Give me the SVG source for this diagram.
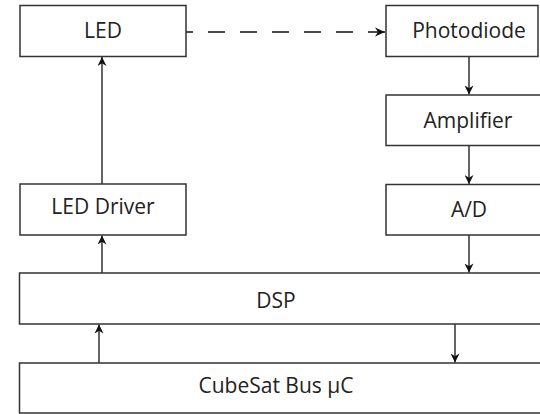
<svg xmlns="http://www.w3.org/2000/svg" width="540" height="414" viewBox="0 0 540 414">
<style>
.box{fill:#fff;stroke:#333;stroke-width:1.5}
.lbl{font-family:"Open Sans","Noto Sans",sans-serif;font-size:21px;fill:#222;text-anchor:middle}
.con{stroke:#111;stroke-width:1.3;fill:none}
</style>
<defs>
<marker id="ah" viewBox="0 0 10 10" refX="10" refY="5" markerWidth="10" markerHeight="9" markerUnits="userSpaceOnUse" orient="auto">
<path d="M0,0 L10,5 L0,10 L3,5 z" fill="#111"/>
</marker>
</defs>
<rect width="540" height="414" fill="#fff"/>
<g id="connectors">
<line class="con" x1="102" y1="184" x2="102" y2="57" marker-end="url(#ah)"/>
<line class="con" x1="102" y1="273" x2="102" y2="235.5" marker-end="url(#ah)"/>
<line class="con" x1="99" y1="363" x2="99" y2="324.5" marker-end="url(#ah)"/>
<line class="con" x1="469" y1="57" x2="469" y2="94.5" marker-end="url(#ah)"/>
<line class="con" x1="469" y1="146" x2="469" y2="184" marker-end="url(#ah)"/>
<line class="con" x1="469" y1="235" x2="469" y2="272.5" marker-end="url(#ah)"/>
<line class="con" x1="455" y1="324" x2="455" y2="362.5" marker-end="url(#ah)"/>
<line class="con" x1="186" y1="32" x2="385" y2="32" stroke-dasharray="17 15" stroke-dashoffset="10"/>
<path d="M375,27.5 L385,32 L375,36.5 L378,32 z" fill="#111"/>
</g>
<g id="led"><rect class="box" x="20" y="5.5" width="166" height="51"/><text class="lbl" x="103" y="38">LED</text></g>
<g id="photodiode"><rect class="box" x="386" y="5.5" width="152" height="51"/><text class="lbl" x="469" y="37.5">Photodiode</text></g>
<g id="amplifier"><rect class="box" x="386" y="95" width="170" height="50.5"/><text class="lbl" x="468" y="128">Amplifier</text></g>
<g id="led-driver"><rect class="box" x="20" y="184" width="166" height="51"/><text class="lbl" x="103" y="214">LED Driver</text></g>
<g id="ad"><rect class="box" x="386" y="184.5" width="170" height="50.5"/><text class="lbl" x="469" y="217">A/D</text></g>
<g id="dsp"><rect class="box" x="19.5" y="273" width="530" height="51"/><text class="lbl" x="276" y="308">DSP</text></g>
<g id="cubesat"><rect class="box" x="19.5" y="363" width="530" height="50"/><text class="lbl" x="276" y="393">CubeSat Bus μC</text></g>
</svg>
